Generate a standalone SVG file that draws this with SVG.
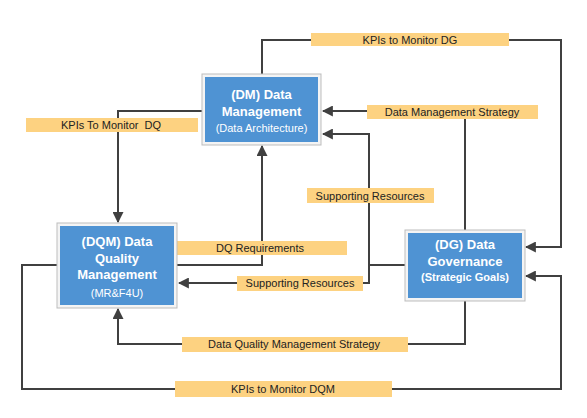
<svg xmlns="http://www.w3.org/2000/svg" width="587" height="418" viewBox="0 0 587 418">
<style>
.frame{fill:#F4F4F4;stroke:#BDBDBD;stroke-width:1}
.box{fill:#4F93D3}
.bt{font-family:"Liberation Sans",Arial,sans-serif;font-size:13px;font-weight:bold;fill:#fff;text-anchor:middle}
.bs{font-family:"Liberation Sans",Arial,sans-serif;font-size:11px;fill:#fff;text-anchor:middle}
.bsb{font-family:"Liberation Sans",Arial,sans-serif;font-size:11px;font-weight:bold;fill:#fff;text-anchor:middle}
.lbl{fill:#FDD281}
.lt{font-family:"Liberation Sans",Arial,sans-serif;font-size:11px;fill:#222;text-anchor:middle}
.ln{fill:none;stroke:#404040;stroke-width:2}
.arr{marker-end:url(#ah)}
</style>
<defs>
<marker id="ah" viewBox="0 0 10 10" refX="9" refY="5" markerWidth="11" markerHeight="11" markerUnits="userSpaceOnUse" orient="auto">
<path d="M0,0 L10,5 L0,10 z" fill="#404040"/>
</marker>
</defs>
<g id="connectors">
<path class="ln arr" d="M262,74 V40 H561 V247 H526"/>
<path class="ln arr" d="M465,230 V111 H323"/>
<path class="ln arr" d="M202,111 H118 V222"/>
<path class="ln arr" d="M405,265 H369 V134 H323"/>
<path class="ln arr" d="M369,265 V283 H179"/>
<path class="ln arr" d="M177,265 H262 V146"/>
<path class="ln arr" d="M465,301 V344 H118 V309"/>
<path class="ln arr" d="M57,265 H22 V389 H561 V276 H526"/>
</g>
<g id="labels">
<g id="lbl-kpi-dg"><rect class="lbl" x="311" y="33" width="198" height="13"/><text class="lt" x="410" y="44">KPIs to Monitor DG</text></g>
<g id="lbl-dms"><rect class="lbl" x="367" y="105" width="171" height="14"/><text class="lt" x="452" y="116">Data Management Strategy</text></g>
<g id="lbl-kpi-dq"><rect class="lbl" x="26" y="118" width="172" height="14"/><text class="lt" x="111" y="129">KPIs To Monitor&#160; DQ</text></g>
<g id="lbl-sr1"><rect class="lbl" x="307" y="188" width="127" height="15"/><text class="lt" x="370" y="200">Supporting Resources</text></g>
<g id="lbl-dqr"><rect class="lbl" x="176" y="241" width="171" height="14"/><text class="lt" x="260" y="252">DQ Requirements</text></g>
<g id="lbl-sr2"><rect class="lbl" x="237" y="276" width="126" height="15"/><text class="lt" x="300" y="287">Supporting Resources</text></g>
<g id="lbl-dqms"><rect class="lbl" x="182" y="337" width="226" height="15"/><text class="lt" x="294" y="348">Data Quality Management Strategy</text></g>
<g id="lbl-kpi-dqm"><rect class="lbl" x="175" y="381" width="217" height="16"/><text class="lt" x="283" y="393">KPIs to Monitor DQM</text></g>
</g>
<g id="dm">
<rect class="frame" x="202" y="74" width="119" height="71"/>
<rect class="box" x="205" y="77" width="113" height="65"/>
<text class="bt" x="261.5" y="99">(DM) Data</text>
<text class="bt" x="261.5" y="116">Management</text>
<text class="bs" x="261.5" y="132">(Data Architecture)</text>
</g>
<g id="dqm">
<rect class="frame" x="57" y="223" width="120" height="85"/>
<rect class="box" x="60" y="226" width="114" height="79"/>
<text class="bt" x="117" y="246">(DQM) Data</text>
<text class="bt" x="117" y="263">Quality</text>
<text class="bt" x="117" y="279">Management</text>
<text class="bs" x="117" y="297">(MR&amp;F4U)</text>
</g>
<g id="dg">
<rect class="frame" x="405" y="230" width="120" height="71"/>
<rect class="box" x="408" y="233" width="114" height="65"/>
<text class="bt" x="465" y="249">(DG) Data</text>
<text class="bt" x="465" y="266">Governance</text>
<text class="bsb" x="465" y="281">(Strategic Goals)</text>
</g>
</svg>
